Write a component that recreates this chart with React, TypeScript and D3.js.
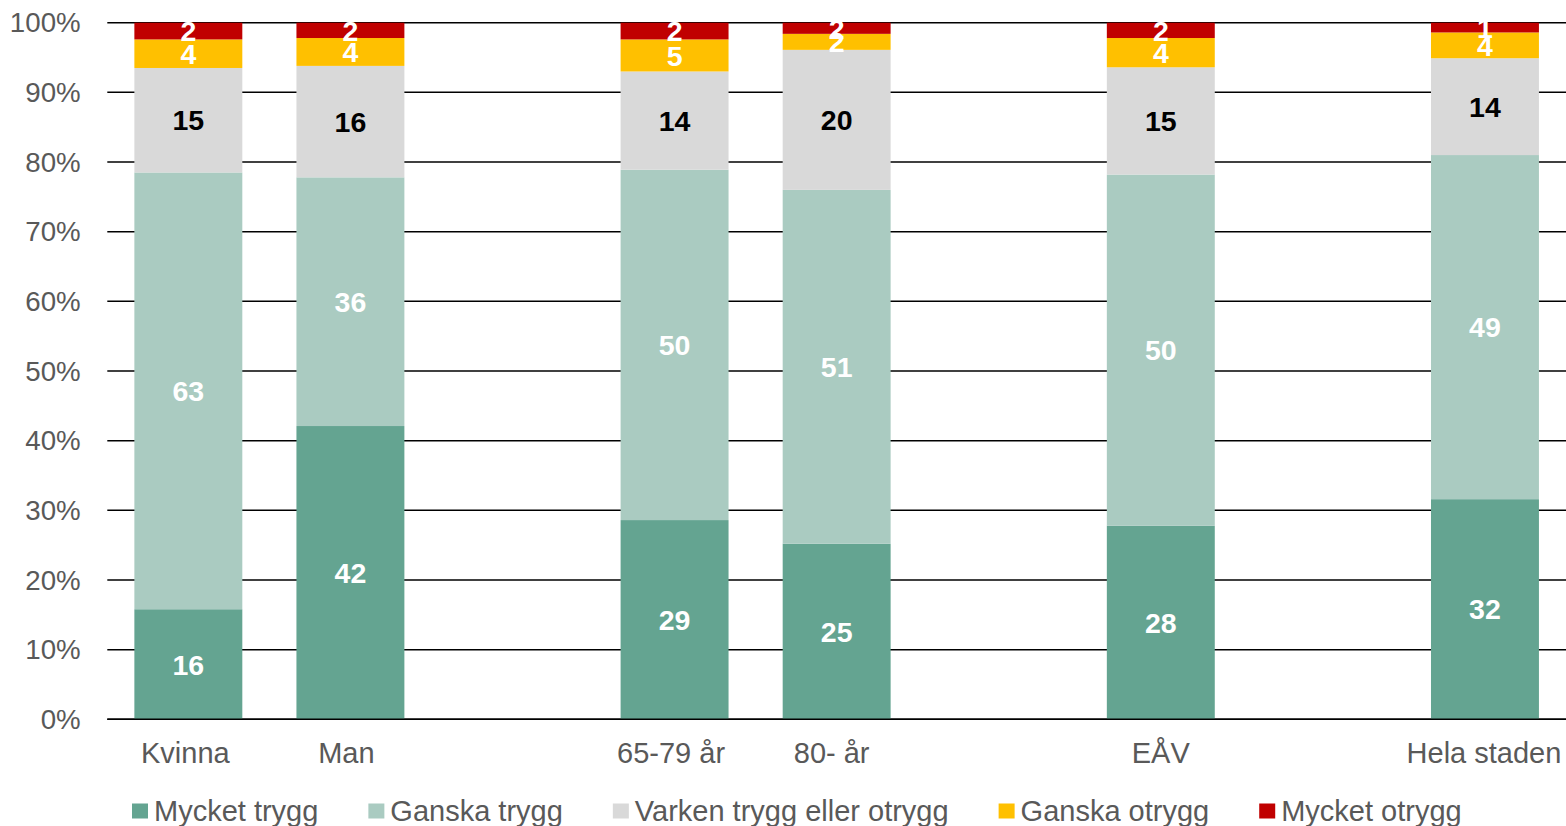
import React, { useMemo } from "react";
import * as d3 from "d3";

// ---- Data ----
const categories = ["Kvinna", "Man", "", "65-79 år", "80- år", "", "EÅV", "", "Hela staden"];
const seriesNames = [
  "Mycket trygg",
  "Ganska trygg",
  "Varken trygg eller otrygg",
  "Ganska otrygg",
  "Mycket otrygg",
];
const mycketTrygg = [15.8, 42.1, null, 28.6, 25.2, null, 27.8, null, 31.6];
const ganskaTrygg = [62.7, 35.7, null, 50.3, 50.8, null, 50.4, null, 49.4];
const varkenTrygg = [15.0, 16.0, null, 14.1, 20.1, null, 15.4, null, 13.9];
const ganskaOtrygg = [4.1, 4.0, null, 4.6, 2.3, null, 4.2, null, 3.7];
const mycketOtrygg = [2.4, 2.2, null, 2.4, 1.6, null, 2.2, null, 1.4];
const yTickValues = [0, 10, 20, 30, 40, 50, 60, 70, 80, 90, 100];

const seriesColors = ["#64A491", "#AACBC1", "#D9D9D9", "#FFC000", "#C00000"];
const labelColors = ["#FFFFFF", "#FFFFFF", "#000000", "#FFFFFF", "#FFFFFF"];

// ---- Layout ----
const W = 1566;
const H = 826;
const plotLeft = 107.3;
const plotRight = 1566;
const plotTop = 22.7;
const plotBottom = 719.3;
const FONT = "'Liberation Sans', Arial, Helvetica, sans-serif";
const AXIS_COLOR = "#595959";
const categoryLabelShift = [-3, -4, 0, -3.5, -5, 0, 0, 0, -1];

function measure(text: string, size: number): number {
  if (typeof document === "undefined") return text.length * size * 0.5;
  const c = document.createElement("canvas");
  const ctx = c.getContext("2d");
  if (!ctx) return text.length * size * 0.5;
  ctx.font = `${size}px 'Liberation Sans', Arial, sans-serif`;
  return ctx.measureText(text).width;
}

export default function App() {
  const seriesArrays = [mycketTrygg, ganskaTrygg, varkenTrygg, ganskaOtrygg, mycketOtrygg];

  const rows = useMemo(
    () =>
      categories.map((c, i) => {
        const r: Record<string, number> = { idx: i } as any;
        seriesNames.forEach((s, k) => {
          r[s] = seriesArrays[k][i] ?? 0;
        });
        return r;
      }),
    []
  );

  const stacked = useMemo(() => d3.stack<any>().keys(seriesNames)(rows), [rows]);

  const x = d3
    .scaleBand<number>()
    .domain(categories.map((_, i) => i))
    .range([plotLeft, plotRight])
    .paddingInner(0.334)
    .paddingOuter(0.167);

  const y = d3.scaleLinear().domain([0, 100]).range([plotBottom, plotTop]);

  // legend layout
  const legendSize = 29;
  const legendY = 811;
  let cursor = 132;
  const legendItems = seriesNames.map((name, i) => {
    const item = { name, color: seriesColors[i], x: cursor };
    cursor += 16 + 6 + measure(name, legendSize) + 50;
    return item;
  });

  return (
    <div style={{ position: "absolute", left: 0, top: 0 }}>
      <svg width={W} height={H} style={{ display: "block", background: "#fff" }} fontFamily={FONT}>
        {/* gridlines */}
        {yTickValues.map((t) => (
          <line
            key={"g" + t}
            x1={plotLeft}
            x2={plotRight}
            y1={y(t)}
            y2={y(t)}
            stroke="#000"
            strokeWidth={1.5}
          />
        ))}
        {/* y labels */}
        {yTickValues.map((t) => (
          <text
            key={"yl" + t}
            x={80.7}
            y={y(t)}
            dy="0.35em"
            textAnchor="end"
            fontSize={27.7}
            fill={AXIS_COLOR}
          >
            {t}%
          </text>
        ))}
        {/* bars */}
        {stacked.map((layer, k) => (
          <g key={"s" + k} fill={seriesColors[k]}>
            {layer.map((d, i) => {
              const v = seriesArrays[k][i];
              if (v == null) return null;
              return (
                <rect
                  key={i}
                  x={x(i)}
                  width={x.bandwidth()}
                  y={y(d[1])}
                  height={y(d[0]) - y(d[1])}
                />
              );
            })}
          </g>
        ))}
        {/* bottom axis line */}
        <line x1={plotLeft} x2={plotRight} y1={plotBottom} y2={plotBottom} stroke="#000" strokeWidth={1.5} />
        {/* data labels */}
        {stacked.map((layer, k) => (
          <g key={"l" + k}>
            {layer.map((d, i) => {
              const v = seriesArrays[k][i];
              if (v == null) return null;
              return (
                <text
                  key={i}
                  x={(x(i) as number) + x.bandwidth() / 2}
                  y={(y(d[0]) + y(d[1])) / 2}
                  dy="0.36em"
                  textAnchor="middle"
                  fontSize={28.5}
                  fontWeight="bold"
                  fill={labelColors[k]}
                >
                  {Math.round(v)}
                </text>
              );
            })}
          </g>
        ))}
        {/* category labels */}
        {categories.map((c, i) =>
          c ? (
            <text
              key={"c" + i}
              x={(x(i) as number) + x.bandwidth() / 2 + categoryLabelShift[i]}
              y={763}
              textAnchor="middle"
              fontSize={29}
              fill={AXIS_COLOR}
            >
              {c}
            </text>
          ) : null
        )}
        {/* legend */}
        {legendItems.map((it) => (
          <g key={it.name}>
            <rect x={it.x} y={legendY - 7.5} width={16} height={15} fill={it.color} />
            <text x={it.x + 22} y={legendY} dy="0.35em" fontSize={legendSize} fill={AXIS_COLOR}>
              {it.name}
            </text>
          </g>
        ))}
      </svg>
    </div>
  );
}
